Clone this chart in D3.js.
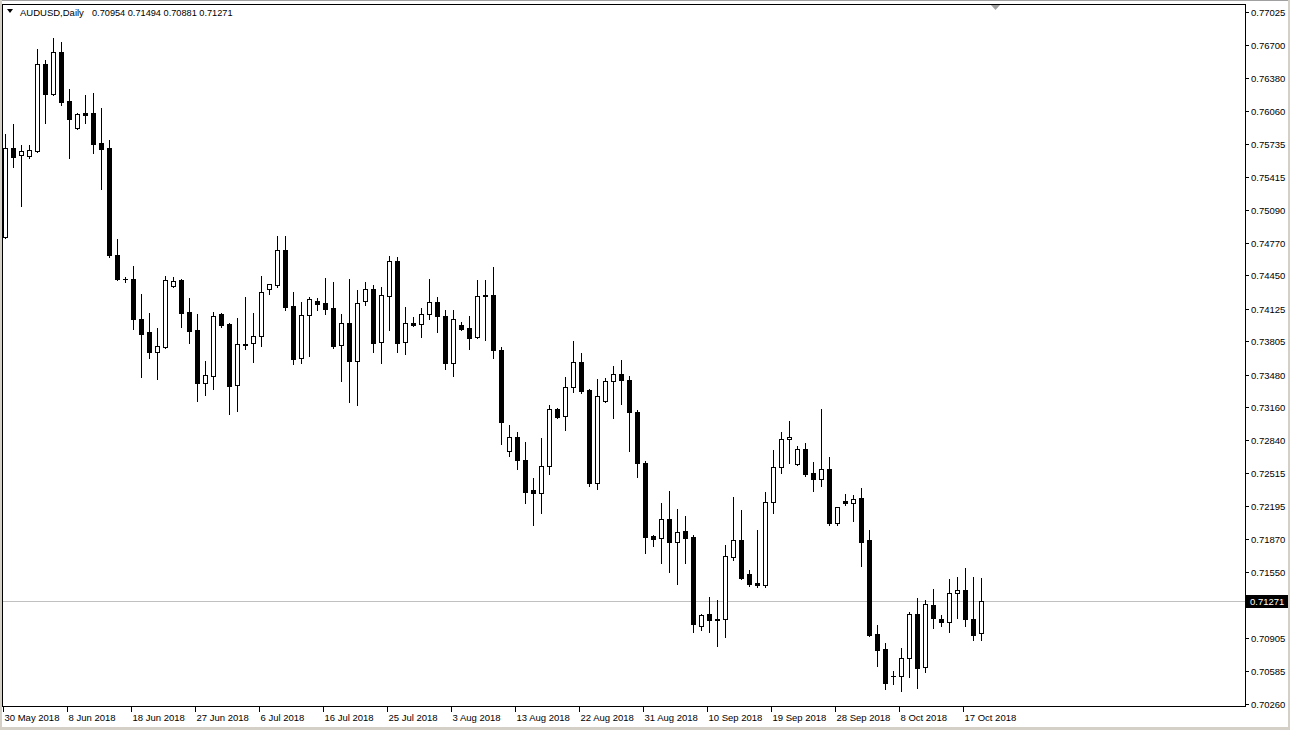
<!DOCTYPE html>
<html><head><meta charset="utf-8">
<script src="https://cdn.jsdelivr.net/npm/d3@7"></script>
<style>
html,body{margin:0;padding:0;background:#fff;}
svg{display:block;}
text{font-family:"Liberation Sans",Arial,sans-serif;font-size:9.5px;fill:#000;}
</style></head><body>
<svg id="c" width="1290" height="730"></svg>
<script>
const symbol = "AUDUSD,Daily";
const headerValues = ["0.70954","0.71494","0.70881","0.71271"];
const lastPrice = 0.71271;

const open = [0.74825,0.75696,0.75627,0.75617,0.75666,0.76517,0.76223,0.76634,0.76155,0.75891,
0.76038,0.76038,0.75744,0.75696,0.74649,0.74415,0.74415,0.74024,0.73897,0.73701,
0.73750,0.74346,0.74405,0.74092,0.73916,0.73398,0.73467,0.74073,0.73975,0.73380,
0.73779,0.73789,0.73858,0.74317,0.74356,0.74698,0.74151,0.73642,0.74063,0.74200,
0.74180,0.74131,0.73770,0.73985,0.73613,0.74200,0.74317,0.73799,0.74249,0.74591,
0.73799,0.73985,0.73975,0.74073,0.74190,0.74053,0.73594,0.73965,0.73936,0.73848,
0.74258,0.74258,0.73721,0.72733,0.72870,0.72645,0.72352,0.72323,0.72587,0.73144,
0.73076,0.73359,0.73603,0.73330,0.72421,0.73222,0.73418,0.73486,0.73427,0.73115,
0.72616,0.71902,0.71883,0.72069,0.71844,0.71951,0.71893,0.71023,0.71140,0.71091,
0.71091,0.71697,0.71863,0.71531,0.71443,0.71423,0.72235,0.72577,0.72851,0.72606,
0.72753,0.72518,0.72460,0.72557,0.72029,0.72245,0.72225,0.72274,0.71863,0.70944,
0.70798,0.70534,0.70534,0.70710,0.71140,0.70622,0.71228,0.71091,0.71062,0.71345,
0.71374,0.71091,0.70954];
const high = [0.75832,0.75930,0.75725,0.75725,0.76663,0.76556,0.76771,0.76732,0.76272,0.76038,
0.76214,0.76233,0.76087,0.75774,0.74806,0.74434,0.74542,0.74268,0.74082,0.73936,
0.74444,0.74434,0.74410,0.74229,0.74073,0.73613,0.74092,0.74078,0.73985,0.74034,
0.74239,0.74082,0.74444,0.74370,0.74835,0.74835,0.74288,0.74190,0.74239,0.74229,
0.74425,0.74385,0.74073,0.74415,0.74307,0.74385,0.74356,0.74337,0.74640,0.74630,
0.74141,0.74043,0.74131,0.74415,0.74239,0.74112,0.74112,0.73994,0.74053,0.74405,
0.74405,0.74532,0.73750,0.72988,0.72919,0.72821,0.72469,0.72860,0.73183,0.73154,
0.73457,0.73809,0.73691,0.73339,0.73437,0.73447,0.73564,0.73623,0.73467,0.73134,
0.72636,0.71912,0.72225,0.72342,0.72166,0.72098,0.71912,0.71140,0.71306,0.71277,
0.71814,0.72284,0.72157,0.71570,0.71961,0.72333,0.72743,0.72919,0.73027,0.72782,
0.72812,0.72626,0.73144,0.72675,0.72190,0.72313,0.72303,0.72372,0.71961,0.71032,
0.70856,0.70583,0.70807,0.71159,0.71296,0.71277,0.71384,0.71130,0.71482,0.71501,
0.71589,0.71501,0.71494];
const low = [0.74816,0.75510,0.75128,0.75598,0.75660,0.75940,0.76214,0.76116,0.75598,0.75885,
0.75940,0.75647,0.75295,0.74630,0.74405,0.74385,0.73926,0.73457,0.73642,0.73437,
0.73745,0.74340,0.73946,0.73789,0.73222,0.73281,0.73339,0.73946,0.73095,0.73124,
0.73730,0.73603,0.73760,0.74268,0.74337,0.74112,0.73584,0.73594,0.73662,0.74112,
0.74073,0.73740,0.73418,0.73212,0.73183,0.74161,0.73701,0.73594,0.73916,0.73701,
0.73682,0.73960,0.73848,0.74024,0.73897,0.73535,0.73467,0.73916,0.73730,0.73835,
0.73819,0.73642,0.72802,0.72684,0.72557,0.72225,0.72010,0.72127,0.72509,0.73056,
0.72939,0.73310,0.73300,0.72391,0.72362,0.73217,0.73056,0.73193,0.72733,0.72479,
0.71736,0.71805,0.71638,0.71550,0.71433,0.71638,0.70964,0.70983,0.70964,0.70827,
0.70915,0.71668,0.71482,0.71414,0.71404,0.71404,0.72127,0.72518,0.72616,0.72600,
0.72489,0.72342,0.72391,0.72010,0.72010,0.72205,0.72049,0.71609,0.70925,0.70631,
0.70407,0.70456,0.70387,0.70524,0.70416,0.70573,0.71003,0.71023,0.70964,0.71101,
0.71023,0.70886,0.70881];
const close = [0.75696,0.75607,0.75666,0.75676,0.76517,0.76223,0.76634,0.76145,0.75979,0.76028,
0.76018,0.75735,0.75686,0.74649,0.74415,0.74410,0.74024,0.73877,0.73701,0.73760,
0.74405,0.74395,0.74082,0.73906,0.73398,0.73476,0.74053,0.73965,0.73370,0.73779,
0.73772,0.73858,0.74288,0.74366,0.74698,0.74141,0.73633,0.74063,0.74219,0.74170,
0.74121,0.73760,0.73985,0.73613,0.74180,0.74317,0.73789,0.74258,0.74591,0.73789,
0.73985,0.73965,0.74073,0.74190,0.74053,0.73594,0.74024,0.73926,0.73838,0.74249,
0.74249,0.73721,0.73017,0.72870,0.72645,0.72333,0.72323,0.72587,0.73144,0.73066,
0.73359,0.73603,0.73320,0.72421,0.73271,0.73418,0.73486,0.73427,0.73115,0.72616,
0.71893,0.71873,0.72069,0.71844,0.71942,0.71883,0.71042,0.71130,0.71081,0.71081,
0.71707,0.71863,0.71492,0.71433,0.71423,0.72235,0.72577,0.72851,0.72870,0.72753,
0.72509,0.72460,0.72557,0.72029,0.72186,0.72225,0.72264,0.71844,0.70935,0.70788,
0.70465,0.70530,0.70710,0.71140,0.70612,0.71238,0.71101,0.71062,0.71345,0.71374,
0.71091,0.70935,0.71271];

const dateTickIndex = [0,8,16,24,32,40,48,56,64,72,80,88,96,104,112,120];
const dateTickLabels = ["30 May 2018","8 Jun 2018","18 Jun 2018","27 Jun 2018","6 Jul 2018","16 Jul 2018","25 Jul 2018","3 Aug 2018","13 Aug 2018","22 Aug 2018","31 Aug 2018","10 Sep 2018","19 Sep 2018","28 Sep 2018","8 Oct 2018","17 Oct 2018"];
const priceTicks = [0.77025,0.76700,0.76380,0.76060,0.75735,0.75415,0.75090,0.74770,0.74450,0.74125,0.73805,0.73480,0.73160,0.72840,0.72515,0.72195,0.71870,0.71550,0.71230,0.70905,0.70585,0.70260];

const svg = d3.select("#c");
const W = 1290, H = 730;
const frameL = 2.5, frameR = 1245.5, frameT = 4.5, frameB = 706.5;

const x = d3.scaleLinear().domain([0, open.length - 1]).range([5, 5 + 8 * (open.length - 1)]);
const y = d3.scaleLinear().domain([0.70260, 0.77025]).range([704, 12]);

// window chrome
svg.append("rect").attr("x",0).attr("y",0).attr("width",W).attr("height",H).attr("fill","#fff");
svg.append("rect").attr("x",0).attr("y",0).attr("width",W).attr("height",1).attr("fill","#a0a0a0");
svg.append("rect").attr("x",0).attr("y",0).attr("width",2).attr("height",H).attr("fill","#d4d0c8");
svg.append("rect").attr("x",0).attr("y",727).attr("width",W).attr("height",3).attr("fill","#d4d0c8");
svg.append("rect").attr("x",1288).attr("y",0).attr("width",2).attr("height",H).attr("fill","#d4d0c8");

const g = svg.append("g").attr("shape-rendering","crispEdges");

// current price line
const yLast = Math.round(y(lastPrice)) + 0.5;
g.append("line").attr("x1",frameL).attr("x2",frameR).attr("y1",yLast).attr("y2",yLast)
  .attr("stroke","#c0c0c0").attr("stroke-width",1);

// candles
const idx = d3.range(open.length);
const cg = g.append("g");
idx.forEach(i => {
  const cx = Math.round(x(i));
  const o = open[i], c = close[i];
  const yh = Math.round(y(high[i])), yl = Math.round(y(low[i]));
  cg.append("line").attr("x1",cx+0.5).attr("x2",cx+0.5).attr("y1",yh).attr("y2",yl+1)
    .attr("stroke","#000").attr("stroke-width",1);
  const yt = Math.round(y(Math.max(o,c))), yb = Math.round(y(Math.min(o,c)));
  if (yb - yt < 1) {
    cg.append("line").attr("x1",cx-2).attr("x2",cx+3).attr("y1",yt+0.5).attr("y2",yt+0.5)
      .attr("stroke","#000").attr("stroke-width",1);
  } else {
    cg.append("rect").attr("x",cx-2+0.5).attr("y",yt+0.5).attr("width",4).attr("height",yb-yt)
      .attr("fill", c >= o ? "#fff" : "#000").attr("stroke","#000").attr("stroke-width",1);
  }
});

// frame
g.append("rect").attr("x",frameL).attr("y",frameT).attr("width",frameR-frameL).attr("height",frameB-frameT)
  .attr("fill","none").attr("stroke","#000").attr("stroke-width",1);

// price axis
const pa = svg.append("g");
priceTicks.forEach(p => {
  const yy = Math.round(y(p)) + 0.5;
  pa.append("line").attr("x1",1246).attr("x2",1249).attr("y1",yy).attr("y2",yy)
    .attr("stroke","#000").attr("shape-rendering","crispEdges");
  // a label hidden under the last-price box is not drawn
  if (Math.abs(yy - yLast) > 12) {
    pa.append("text").attr("x",1251).attr("y",yy).attr("dy","0.35em").text(p.toFixed(5));
  }
});
// last price box
pa.append("rect").attr("x",1246).attr("y",yLast-6.5).attr("width",42).attr("height",13).attr("fill","#000");
pa.append("text").attr("x",1250).attr("y",yLast).attr("dy","0.35em").style("fill","#fff").text(lastPrice.toFixed(5));

// date axis
const da = svg.append("g");
dateTickIndex.forEach((di, k) => {
  const tx = Math.round(x(di)) - 1.5;
  da.append("line").attr("x1",tx).attr("x2",tx).attr("y1",707).attr("y2",712)
    .attr("stroke","#000").attr("shape-rendering","crispEdges");
  da.append("text").attr("x",tx+1).attr("y",721).text(dateTickLabels[k]);
});

// header
svg.append("path").attr("d","M7,9 L13,9 L10,13 Z").attr("fill","#000");
svg.append("text").attr("x",20).attr("y",16).text(symbol);
svg.append("text").attr("x",92).attr("y",16).style("font-size","9.2px").text(headerValues.join(" "));

// chart shift marker
svg.append("path").attr("d","M991,5 L1000,5 L995.5,10 Z").attr("fill","#a0a0a0");
</script>
</body></html>
